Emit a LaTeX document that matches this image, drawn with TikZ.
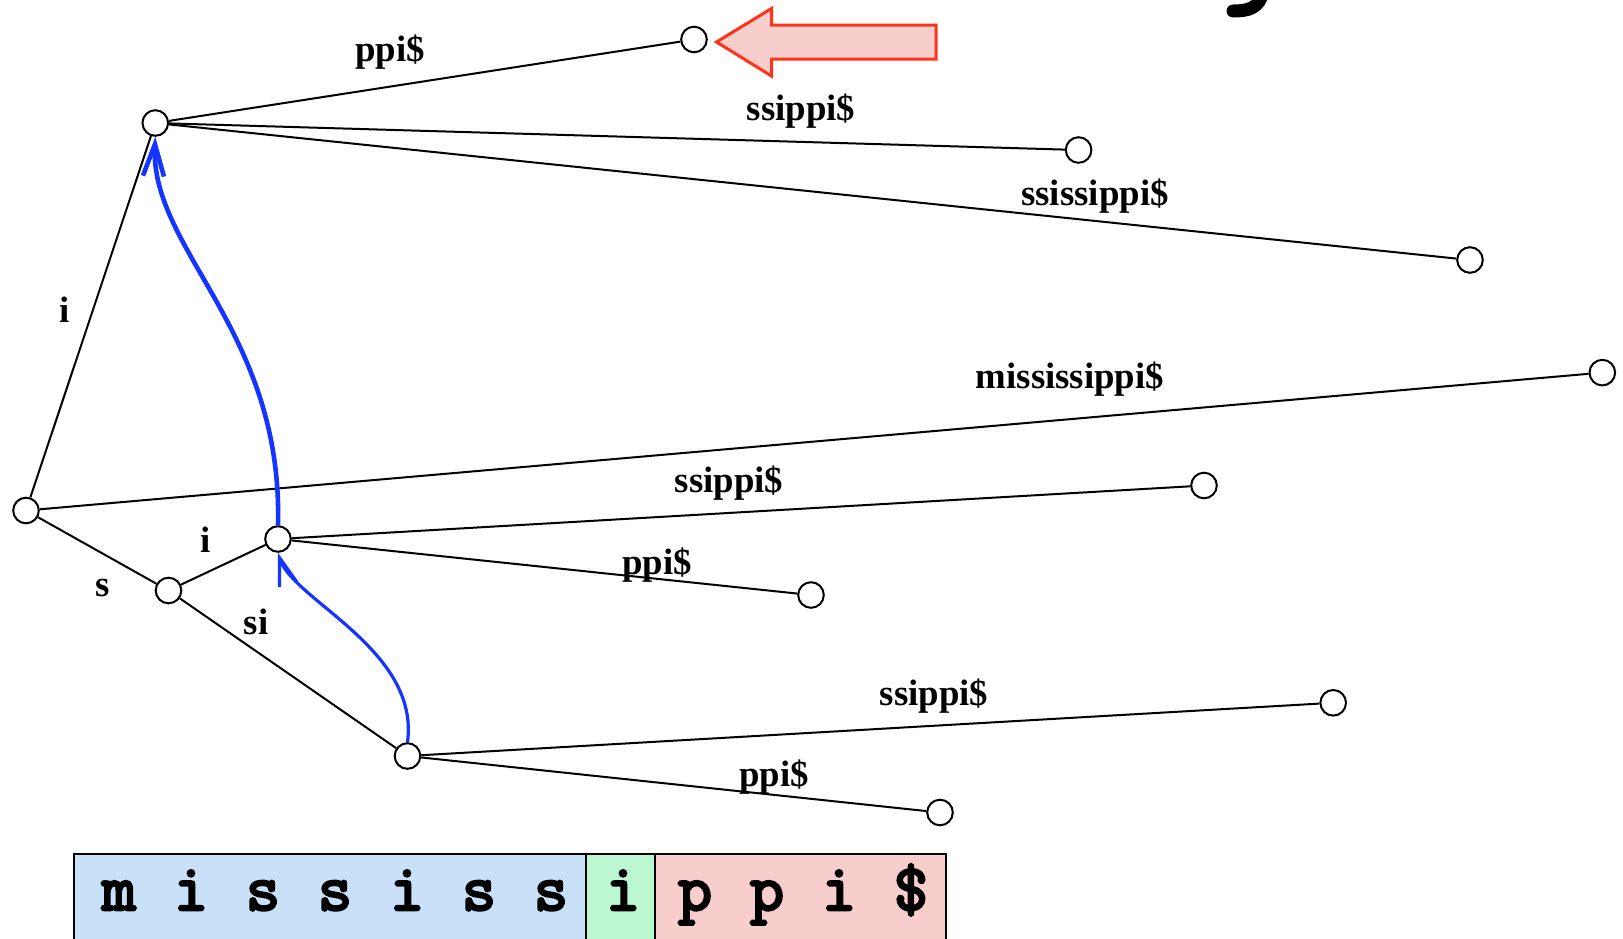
\documentclass[tikz,border=0pt]{standalone}
\usepackage{fontspec}
\setmainfont{Liberation Serif}
\newfontfamily\cellfont{Latin Modern Mono}[FakeBold=4]
\usetikzlibrary{arrows.meta}
\definecolor{linkblue}{RGB}{22,52,255}
\definecolor{cellblue}{RGB}{200,225,248}
\definecolor{cellgreen}{RGB}{187,247,208}
\definecolor{cellpink}{RGB}{248,206,204}
\definecolor{arrowred}{RGB}{255,51,25}
\tikzset{
  tnode/.style={circle,draw=black,fill=white,line width=1pt,minimum size=12.8pt,inner sep=0pt},
  edge/.style={line width=1pt,black},
  elabel/.style={font=\fontsize{18.4pt}{20pt}\selectfont\bfseries,anchor=base,inner sep=0pt},
  cell/.style={font=\cellfont\fontsize{33pt}{35pt}\selectfont,anchor=base,inner sep=0pt},
  linkthin/.style={linkblue,line width=1.6pt,-{Straight Barb[length=14pt,width=9pt]}},
  linkthick/.style={linkblue,line width=2.3pt,-{Straight Barb[length=16pt,width=10.5pt]}},
}
\begin{document}
\begin{tikzpicture}[x=0.5pt,y=-0.5pt]
\useasboundingbox (0,0) rectangle (1623,938);
\clip (0,0) rectangle (1623,938);
% fragment of a large title glyph at top right
\draw[line width=6.5pt,line cap=round] (1263,-8) .. controls (1259,8) and (1249,11) .. (1233,11);
% nodes
\node[tnode] (root) at (26,510.5) {};
\node[tnode] (A) at (155.3,123) {};
\node[tnode] (L1) at (694,39.5) {};
\node[tnode] (L2) at (1078.6,150) {};
\node[tnode] (L3) at (1470,260) {};
\node[tnode] (L4) at (1602.3,372.6) {};
\node[tnode] (S) at (168.5,590.5) {};
\node[tnode] (SI) at (278,539) {};
\node[tnode] (L5) at (1204,485.5) {};
\node[tnode] (L6) at (811,595) {};
\node[tnode] (SSI) at (407.5,756) {};
\node[tnode] (L7) at (1333.2,702.8) {};
\node[tnode] (L8) at (940,812.5) {};
% edges
\draw[edge] (root) -- (A);
\draw[edge] (A) -- (L1);
\draw[edge] (A) -- (L2);
\draw[edge] (A) -- (L3);
\draw[edge] (root) -- (L4);
\draw[edge] (root) -- (S);
\draw[edge] (S) -- (SI);
\draw[edge] (SI) -- (L5);
\draw[edge] (SI) -- (L6);
\draw[edge] (S) -- (SSI);
\draw[edge] (SSI) -- (L7);
\draw[edge] (SSI) -- (L8);
% labels
\node[elabel] (t1) at (390,61) {ppi\$};
\node[elabel] (t2) at (801,120) {ssippi\$};
\node[elabel] (t3) at (1095,205) {ssissippi\$};
\node[elabel] (t4) at (65,322) {i};
\node[elabel] (t5) at (1070,388) {mississippi\$};
\node[elabel] (t6) at (729,492.5) {ssippi\$};
\node[elabel] (t7) at (205.7,552.5) {i};
\node[elabel] (t8) at (657,574) {ppi\$};
\node[elabel] (t9) at (102.3,596.5) {s};
\node[elabel] (t10) at (256,634) {si};
\node[elabel] (t11) at (934,705) {ssippi\$};
\node[elabel] (t12) at (774,786.5) {ppi\$};
% suffix links
\draw[linkthin] (SSI.north) .. controls (420,650) and (293,600) .. (SI.south);
\draw[linkthick] (SI.north) .. controls (283,330) and (150,250) .. (A.south);
% pointer arrow
\draw[arrowred,fill=cellpink,line width=1.5pt,line join=miter]
  (716.5,42) -- (771.5,8.5) -- (771.5,25) -- (936,25) -- (936,59) -- (771.5,59) -- (771.5,76) -- cycle;
% string cells
\draw[line width=1pt,fill=cellblue] (73.5,853.5) rectangle (586,960);
\draw[line width=1pt,fill=cellgreen] (586,853.5) rectangle (655,960);
\draw[line width=1pt,fill=cellpink] (655,853.5) rectangle (946,960);
\foreach \ch [count=\k from 0] in {m,i,s,s,i,s,s,i,p,p,i,\$} {
  \node[cell] (c\k) at ({119+72*\k},910) {\ch};
}
\end{tikzpicture}
\end{document}
